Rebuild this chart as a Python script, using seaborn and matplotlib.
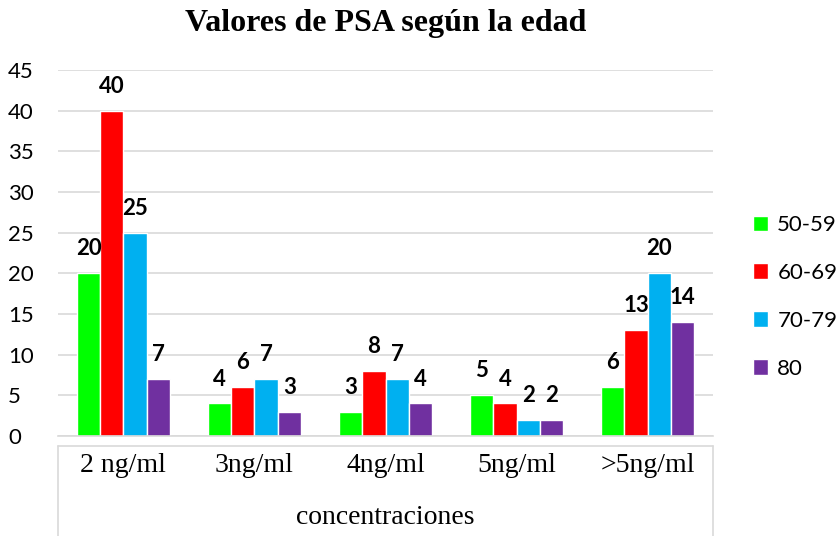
import pandas as pd
import matplotlib.pyplot as plt
import seaborn as sns

# Data
categories = ['2 ng/ml', '3ng/ml', '4ng/ml', '5ng/ml', '>5ng/ml']
age_groups = ['50-59', '60-69', '70-79', '80']
vals_50_59 = [20, 4, 3, 5, 6]
vals_60_69 = [40, 6, 8, 4, 13]
vals_70_79 = [25, 7, 7, 2, 20]
vals_80 = [7, 3, 4, 2, 14]
colors = ['#00FF00', '#FF0000', '#00B0F0', '#7030A0']

rows = []
for grp, vals in zip(age_groups, [vals_50_59, vals_60_69, vals_70_79, vals_80]):
    for cat, v in zip(categories, vals):
        rows.append({'concentracion': cat, 'edad': grp, 'valor': v})
df = pd.DataFrame(rows)

sns.set_style('white')
plt.rcParams['font.family'] = ['Lato', 'DejaVu Sans']
plt.rcParams['text.color'] = 'black'
plt.rcParams['axes.labelcolor'] = 'black'
plt.rcParams['xtick.color'] = 'black'
plt.rcParams['ytick.color'] = 'black'

fig = plt.figure(figsize=(8.39, 5.36), dpi=100)
ax = fig.add_axes([0.069, 0.1866, 0.781, 0.6828])

sns.barplot(data=df, x='concentracion', y='valor', hue='edad',
            order=categories, hue_order=age_groups, palette=colors,
            width=0.71, gap=0, saturation=1, ax=ax, legend=True)

ax.set_xlim(-0.5, 4.5)
ax.set_ylim(0, 45)
ax.set_yticks(range(0, 46, 5))
ax.yaxis.grid(True, color='#D9D9D9', linewidth=1.2)
ax.set_axisbelow(True)
for s in ['top', 'right', 'left']:
    ax.spines[s].set_visible(False)
ax.spines['bottom'].set_color('#D9D9D9')
ax.spines['bottom'].set_linewidth(1.2)
ax.tick_params(axis='y', length=0, labelsize=16, pad=36)
ax.tick_params(axis='x', length=0, pad=12)
for lab in ax.get_xticklabels():
    lab.set_fontfamily('Liberation Serif')
    lab.set_fontsize(20)
for lab in ax.get_yticklabels():
    lab.set_horizontalalignment('left')

ax.set_ylabel('')
ax.set_xlabel('concentraciones', fontfamily='Liberation Serif', fontsize=20, labelpad=20)

# category table outline below the axis
ax.plot([0, 1], [-0.027, -0.027], transform=ax.transAxes, clip_on=False,
        color='#D9D9D9', linewidth=1.2)
for x in [0, 1]:
    ax.plot([x, x], [-0.027, -0.28], transform=ax.transAxes, clip_on=False,
            color='#D9D9D9', linewidth=1.2)

for cont in ax.containers:
    ax.bar_label(cont, fmt='%d', padding=10, fontsize=16, fontweight='bold', color='black')

handles, labels = ax.get_legend_handles_labels()
ax.legend(handles, labels, loc='center left', bbox_to_anchor=(1.03, 0.38),
          frameon=False, fontsize=16, handlelength=0.7, handleheight=0.7,
          handletextpad=0.4, labelspacing=1.25)

ax.set_title('Valores de PSA según la edad', fontfamily='Liberation Serif',
             fontweight='bold', fontsize=23, pad=28)

fig.savefig('out.png', dpi=100)
